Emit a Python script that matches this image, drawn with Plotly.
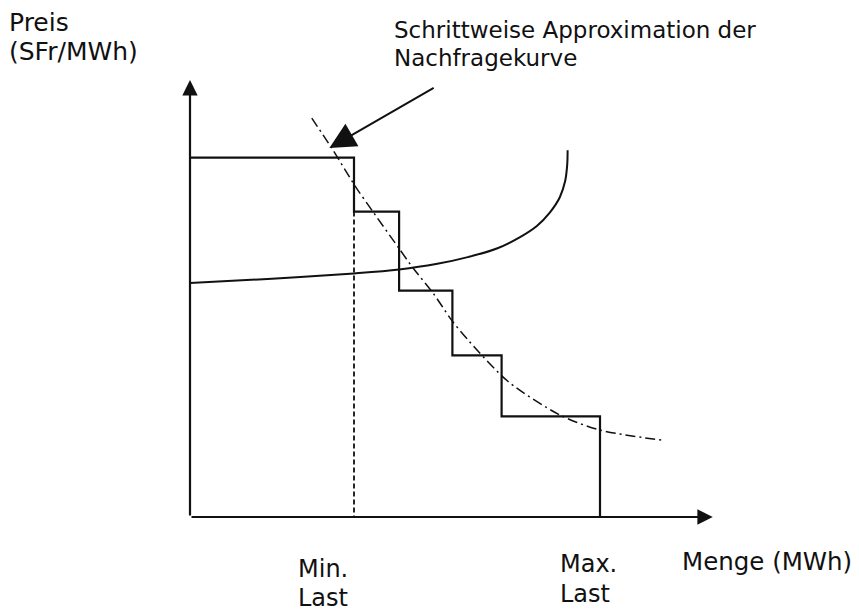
import plotly.graph_objects as go

# ---------------- data (schematic units: quantity 0..100 = max load, price 0..100 = top bid) ----
step_x = [0, 40, 51, 64, 76, 100, 100]
step_y = [100, 85, 63, 45, 28, 0, 0]

min_last = 40
min_last_top = 85

supply_x = [0, 20, 40, 51, 60, 68, 75, 80.5, 84.6, 87.8, 90.2, 91.5, 92.0, 92.1]
supply_y = [65.1, 66.3, 67.8, 68.9, 70.4, 72.4, 74.8, 77.9, 81.0, 84.8, 89.0, 93.5, 98.0, 102.1]

demand_x = [29.7, 34.6, 40.4, 44.6, 50.7, 54.4, 59.3, 63.8, 67.8, 77.6, 90.2, 100, 115]
demand_y = [111.0, 102.6, 91.9, 85.0, 75.2, 69.3, 62.3, 54.8, 49.3, 37.7, 28.4, 24.2, 21.4]

axis_x_end = 127.5
axis_y_end = 121.6

pointer_tail = (59.8, 119.7)
pointer_head = (34.0, 102.7)

title_lines = ["Schrittweise Approximation der", "Nachfragekurve"]
ylabel_lines = ["Preis", "(SFr/MWh)"]
xlabel = "Menge (MWh)"
min_lines = ["Min.", "Last"]
max_lines = ["Max.", "Last"]

# ---------------- figure ----------------
W, H = 859, 614
FONT = "DejaVu Sans"

# build step path from step edges
sx, sy = [], []
for i in range(len(step_y) - 2):
    sx += [step_x[i], step_x[i + 1]]
    sy += [step_y[i], step_y[i]]
sx += [step_x[-2], step_x[-1]]
sy += [step_y[-3], 0]

fig = go.Figure()
fig.add_trace(go.Scatter(x=sx, y=sy, mode="lines",
                         line=dict(color="#111", width=2.2), hoverinfo="skip"))
fig.add_trace(go.Scatter(x=[min_last, min_last], y=[min_last_top, 0], mode="lines",
                         line=dict(color="#111", width=1.8, dash="5px,3px"), hoverinfo="skip"))
fig.add_trace(go.Scatter(x=supply_x, y=supply_y, mode="lines",
                         line=dict(color="#111", width=2, shape="spline", smoothing=1.0),
                         hoverinfo="skip"))
fig.add_trace(go.Scatter(x=demand_x, y=demand_y, mode="lines",
                         line=dict(color="#111", width=1.5, shape="spline", smoothing=0.8,
                                   dash="10px,4px,2px,4px"), hoverinfo="skip"))

# axes with arrows
for (hx, hy) in [(axis_x_end, 0), (0, axis_y_end)]:
    fig.add_annotation(x=hx, y=hy, ax=0, ay=0, xref="x", yref="y", axref="x", ayref="y",
                       text="", showarrow=True, arrowhead=2, arrowsize=1.4, arrowwidth=2.2,
                       arrowcolor="#111", standoff=0)
# pointer arrow
fig.add_annotation(x=pointer_head[0], y=pointer_head[1], ax=pointer_tail[0], ay=pointer_tail[1],
                   xref="x", yref="y", axref="x", ayref="y", text="", showarrow=True,
                   arrowhead=2, arrowsize=2.6, arrowwidth=2, arrowcolor="#111", standoff=0)

def px_text(txt, x, y, size):
    fig.add_annotation(text=txt, x=x / W, y=1 - y / H, xref="paper", yref="paper",
                       xanchor="left", yanchor="middle", showarrow=False,
                       font=dict(family=FONT, size=size, color="#111"))

px_text(ylabel_lines[0], 7, 22, 25)
px_text(ylabel_lines[1], 7, 51, 25)
px_text(title_lines[0], 392, 30, 23)
px_text(title_lines[1], 392, 58, 23)
px_text(min_lines[0], 296, 569, 24)
px_text(min_lines[1], 296, 598, 24)
px_text(max_lines[0], 558, 563.5, 24)
px_text(max_lines[1], 558, 593.5, 24)
px_text(xlabel, 680, 561, 24.5)

px_per_x = 4.1
px_per_y = 3.593
x0, y0 = 190, 517
fig.update_layout(
    width=W, height=H, margin=dict(l=0, r=0, t=0, b=0),
    paper_bgcolor="white", plot_bgcolor="white", showlegend=False,
    xaxis=dict(range=[-x0 / px_per_x, (W - x0) / px_per_x], visible=False, fixedrange=True),
    yaxis=dict(range=[-(H - y0) / px_per_y, y0 / px_per_y], visible=False, fixedrange=True),
)

fig.write_html("out.html", post_script="document.body.style.margin='0';",
               config={"displayModeBar": False})
